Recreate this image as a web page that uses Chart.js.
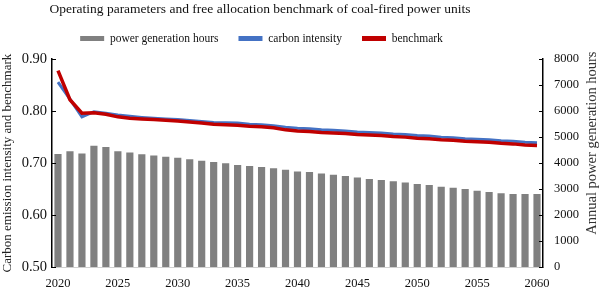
<!DOCTYPE html>
<html>
<head>
<meta charset="utf-8">
<script src="https://cdn.jsdelivr.net/npm/chart.js@4.4.1/dist/chart.umd.min.js"></script>
<style>
  html, body { margin: 0; padding: 0; background: #fff; }
  #wrap { width: 600px; height: 288px; }
</style>
</head>
<body>
<div id="wrap"><canvas id="c" width="600" height="288"></canvas></div>
<script>
// ---- data ----
const years = ['2020','2021','2022','2023','2024','2025','2026','2027','2028','2029','2030','2031','2032','2033','2034','2035','2036','2037','2038','2039','2040','2041','2042','2043','2044','2045','2046','2047','2048','2049','2050','2051','2052','2053','2054','2055','2056','2057','2058','2059','2060'];
const shownYears = ['2020','2025','2030','2035','2040','2045','2050','2055','2060'];
const generationHours = [4350,4460,4370,4670,4620,4460,4410,4340,4290,4240,4210,4150,4090,4040,3990,3930,3890,3850,3800,3740,3680,3660,3600,3550,3500,3450,3390,3350,3300,3250,3200,3160,3090,3050,3000,2940,2890,2840,2810,2810,2810];
const carbonIntensity = [0.856,0.823,0.789,0.799,0.796,0.7925,0.790,0.788,0.7865,0.785,0.784,0.782,0.780,0.778,0.7775,0.777,0.775,0.774,0.772,0.769,0.767,0.766,0.764,0.763,0.762,0.760,0.759,0.758,0.756,0.755,0.753,0.752,0.750,0.749,0.747,0.746,0.745,0.743,0.742,0.740,0.739];
const benchmark = [0.878,0.822,0.796,0.797,0.794,0.789,0.7865,0.785,0.784,0.7825,0.781,0.779,0.777,0.775,0.774,0.773,0.771,0.770,0.768,0.764,0.762,0.761,0.759,0.758,0.757,0.755,0.754,0.753,0.751,0.750,0.748,0.747,0.745,0.744,0.742,0.741,0.740,0.738,0.737,0.735,0.734];
const leftTicks = [0.5, 0.6, 0.7, 0.8, 0.9];
const rightTicks = [0,1000,2000,3000,4000,5000,6000,7000,8000];
const titleText = 'Operating parameters and free allocation benchmark of coal-fired power units';
const leftAxisTitle = 'Carbon emission intensity and benchmark';
const rightAxisTitle = 'Annual power generation hours';
const seriesNames = ['power generation hours', 'carbon intensity', 'benchmark'];

const SERIF = '"Liberation Serif", "Times New Roman", "DejaVu Serif", serif';

// ---- plugins ----
const layoutTweaks = {
  id: 'layoutTweaks',
  afterLayout(chart) {
    const t = chart.titleBlock, l = chart.legend;
    if (t) { t.left = 0; t.right = 520; }
    if (l) {
      l.left = 0; l.right = 523;
      const p = l.options.labels.padding;
      l.top = 38.5 - p - 11.5 / 2;
    }
  }
};

const inwardTicks = {
  id: 'inwardTicks',
  afterDraw(chart) {
    const ctx = chart.ctx;
    const area = chart.chartArea;
    ctx.save();
    ctx.strokeStyle = '#000';
    ctx.lineWidth = 1;
    [['y', area.left, 1], ['y1', area.right, -1]].forEach(([id, x, dir]) => {
      const s = chart.scales[id];
      s.ticks.forEach((t, i) => {
        const py = Math.round(s.getPixelForTick(i)) + 0.5;
        ctx.beginPath();
        ctx.moveTo(x, py);
        ctx.lineTo(x + dir * 4, py);
        ctx.stroke();
      });
    });
    ctx.restore();
  }
};

const rightTitle = {
  id: 'rightTitle',
  afterDraw(chart) {
    const ctx = chart.ctx;
    const s = chart.scales.y1;
    ctx.save();
    ctx.translate(s.right - 8, (s.top + s.bottom) / 2 - 20);
    ctx.rotate(-Math.PI / 2);
    ctx.font = '14.5px ' + SERIF;
    ctx.fillStyle = '#333';
    ctx.textAlign = 'center';
    ctx.textBaseline = 'middle';
    ctx.fillText(rightAxisTitle, 0, 0);
    ctx.restore();
  }
};

new Chart(document.getElementById('c'), {
  data: {
    labels: years,
    datasets: [
      {
        type: 'bar',
        label: seriesNames[0],
        data: generationHours,
        yAxisID: 'y1',
        backgroundColor: '#808080',
        borderWidth: 0,
        barPercentage: 0.6,
        categoryPercentage: 1.0,
        order: 3
      },
      {
        type: 'line',
        label: seriesNames[1],
        data: carbonIntensity,
        yAxisID: 'y',
        borderColor: '#4472C4',
        backgroundColor: '#4472C4',
        borderWidth: 3,
        pointRadius: 0,
        tension: 0,
        order: 2
      },
      {
        type: 'line',
        label: seriesNames[2],
        data: benchmark,
        yAxisID: 'y',
        borderColor: '#C00000',
        backgroundColor: '#C00000',
        borderWidth: 3.5,
        pointRadius: 0,
        tension: 0,
        order: 1
      }
    ]
  },
  options: {
    responsive: false,
    animation: false,
    devicePixelRatio: 1,
    layout: { padding: 0 },
    plugins: {
      tooltip: { enabled: false },
      title: {
        display: true,
        text: titleText,
        color: '#111',
        font: { family: SERIF, size: 13.5, weight: 'normal', lineHeight: 1.2 },
        padding: { top: 1.5, bottom: 0 }
      },
      legend: {
        display: true,
        position: 'top',
        labels: {
          color: '#111',
          font: { family: SERIF, size: 11.5 },
          boxWidth: 24,
          boxHeight: 5,
          padding: 20,
          sort: (a, b) => a.datasetIndex - b.datasetIndex,
          generateLabels(chart) {
            const items = Chart.defaults.plugins.legend.labels.generateLabels(chart);
            items.forEach(it => { it.lineWidth = 0; it.strokeStyle = it.fillStyle; });
            return items;
          }
        }
      }
    },
    scales: {
      x: {
        type: 'category',
        offset: true,
        grid: { display: false, drawTicks: false },
        border: { display: true, color: '#d0d0d0', width: 1 },
        ticks: {
          autoSkip: false,
          maxRotation: 0,
          minRotation: 0,
          padding: 9,
          color: '#111',
          font: { family: SERIF, size: 12.5 },
          callback(value, index) {
            const lab = this.getLabelForValue(value);
            return shownYears.includes(lab) ? lab : '';
          }
        },
        afterFit(scale) { scale.height = 21; }
      },
      y: {
        position: 'left',
        min: leftTicks[0],
        max: leftTicks[leftTicks.length - 1],
        grid: { display: false, drawTicks: false },
        border: { display: true, color: '#000', width: 1.5 },
        afterBuildTicks(scale) { scale.ticks = leftTicks.map(v => ({ value: v })); },
        ticks: {
          padding: 5,
          color: '#111',
          font: { family: SERIF, size: 14.5 },
          callback: v => Number(v).toFixed(2)
        },
        title: {
          display: true,
          text: leftAxisTitle,
          color: '#222',
          font: { family: SERIF, size: 13 },
          padding: { top: 0, bottom: 0 }
        },
        afterFit(scale) { scale.width = 52; }
      },
      y1: {
        position: 'right',
        min: rightTicks[0],
        max: rightTicks[rightTicks.length - 1],
        grid: { display: false, drawTicks: false },
        border: { display: true, color: '#000', width: 1.5 },
        afterBuildTicks(scale) { scale.ticks = rightTicks.map(v => ({ value: v })); },
        ticks: {
          padding: 11,
          color: '#111',
          font: { family: SERIF, size: 12.5 },
          callback: v => String(v)
        },
        afterFit(scale) { scale.width = 57; }
      }
    }
  },
  plugins: [layoutTweaks, inwardTicks, rightTitle]
});
</script>
</body>
</html>
